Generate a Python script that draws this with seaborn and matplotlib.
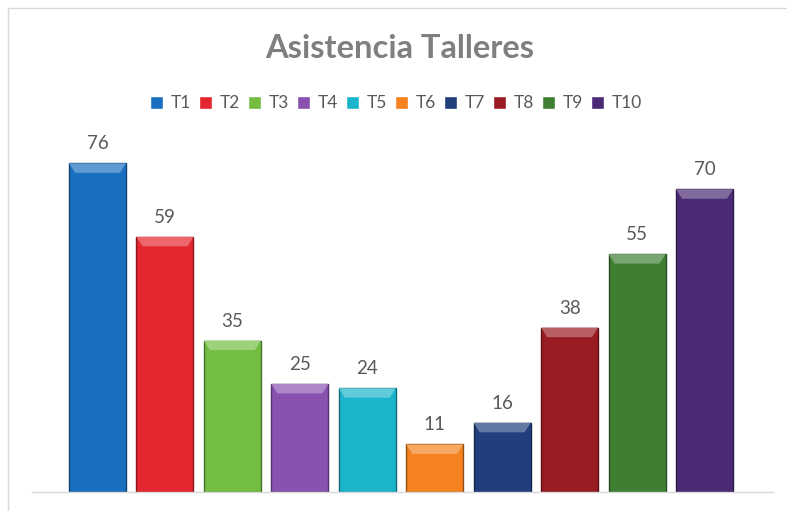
import pandas as pd
import seaborn as sns
import matplotlib.pyplot as plt
import matplotlib.colors as mcolors
from matplotlib.patches import Polygon
from matplotlib.lines import Line2D

# Data
talleres = ['T1', 'T2', 'T3', 'T4', 'T5', 'T6', 'T7', 'T8', 'T9', 'T10']
asistencia = [76, 59, 35, 25, 24, 11, 16, 38, 55, 70]
colores = ['#1a6fc0', '#e3262f', '#74bd43', '#8a52b0', '#1cb4cb',
           '#f5821f', '#203f7c', '#9a1c23', '#3f7f34', '#4a2a74']

df = pd.DataFrame({'taller': talleres, 'asistencia': asistencia})

sns.set_theme(style='white')
plt.rcParams['font.family'] = ['Lato', 'DejaVu Sans']

fig = plt.figure(figsize=(7.87, 5.11), dpi=100)
ax = fig.add_axes([0.0407, 0.0372, 0.9416, 0.6771])

sns.barplot(data=df, x='taller', y='asistencia', hue='taller',
            palette=colores, dodge=False, width=0.845, legend=True,
            saturation=1, ax=ax)

ax.set_xlim(-0.971, 10.016)
ax.set_ylim(0, 80)

# fake bevel on each bar, lighter trapezoid on top, darker edge
for patch, c in zip(ax.patches, colores):
    x, w, h = patch.get_x(), patch.get_width(), patch.get_height()
    if h <= 0:
        continue
    patch.set_edgecolor(mcolors.to_hex([v * 0.6 for v in mcolors.to_rgb(c)]))
    patch.set_linewidth(1.0)
    light = [v + (1 - v) * 0.3 for v in mcolors.to_rgb(c)]
    d = 2.2
    inset = 0.09
    tri = Polygon([[x, h], [x + w, h], [x + w - inset, h - d], [x + inset, h - d]],
                  closed=True, facecolor=light, edgecolor='none', zorder=patch.get_zorder() + 0.1)
    ax.add_patch(tri)

for cont in ax.containers:
    ax.bar_label(cont, padding=8, fontsize=13.5, color='#595959')

ax.set_xlabel('')
ax.set_ylabel('')
ax.set_xticks([])
ax.set_yticks([])
for side in ['top', 'right', 'left']:
    ax.spines[side].set_visible(False)
ax.spines['bottom'].set_color('#d9d9d9')
ax.spines['bottom'].set_linewidth(1.0)

leg = ax.legend(ncol=10, loc='center', bbox_to_anchor=(0.503, 0.798),
                bbox_transform=fig.transFigure, frameon=False,
                fontsize=12.5, handlelength=0.75, handleheight=0.75,
                handletextpad=0.45, columnspacing=0.45)
for t in leg.get_texts():
    t.set_color('#595959')

fig.text(0.508, 0.905, 'Asistencia Talleres', ha='center', va='center',
         fontsize=23.5, fontweight='bold', color='#7f7f7f')

# chart area border (top and left visible)
fig.add_artist(Line2D([8 / 787, 1], [1 - 8 / 511] * 2, color='#d9d9d9', lw=1))
fig.add_artist(Line2D([8 / 787] * 2, [0, 1 - 8 / 511], color='#d9d9d9', lw=1))

fig.savefig('out.png', dpi=100)
